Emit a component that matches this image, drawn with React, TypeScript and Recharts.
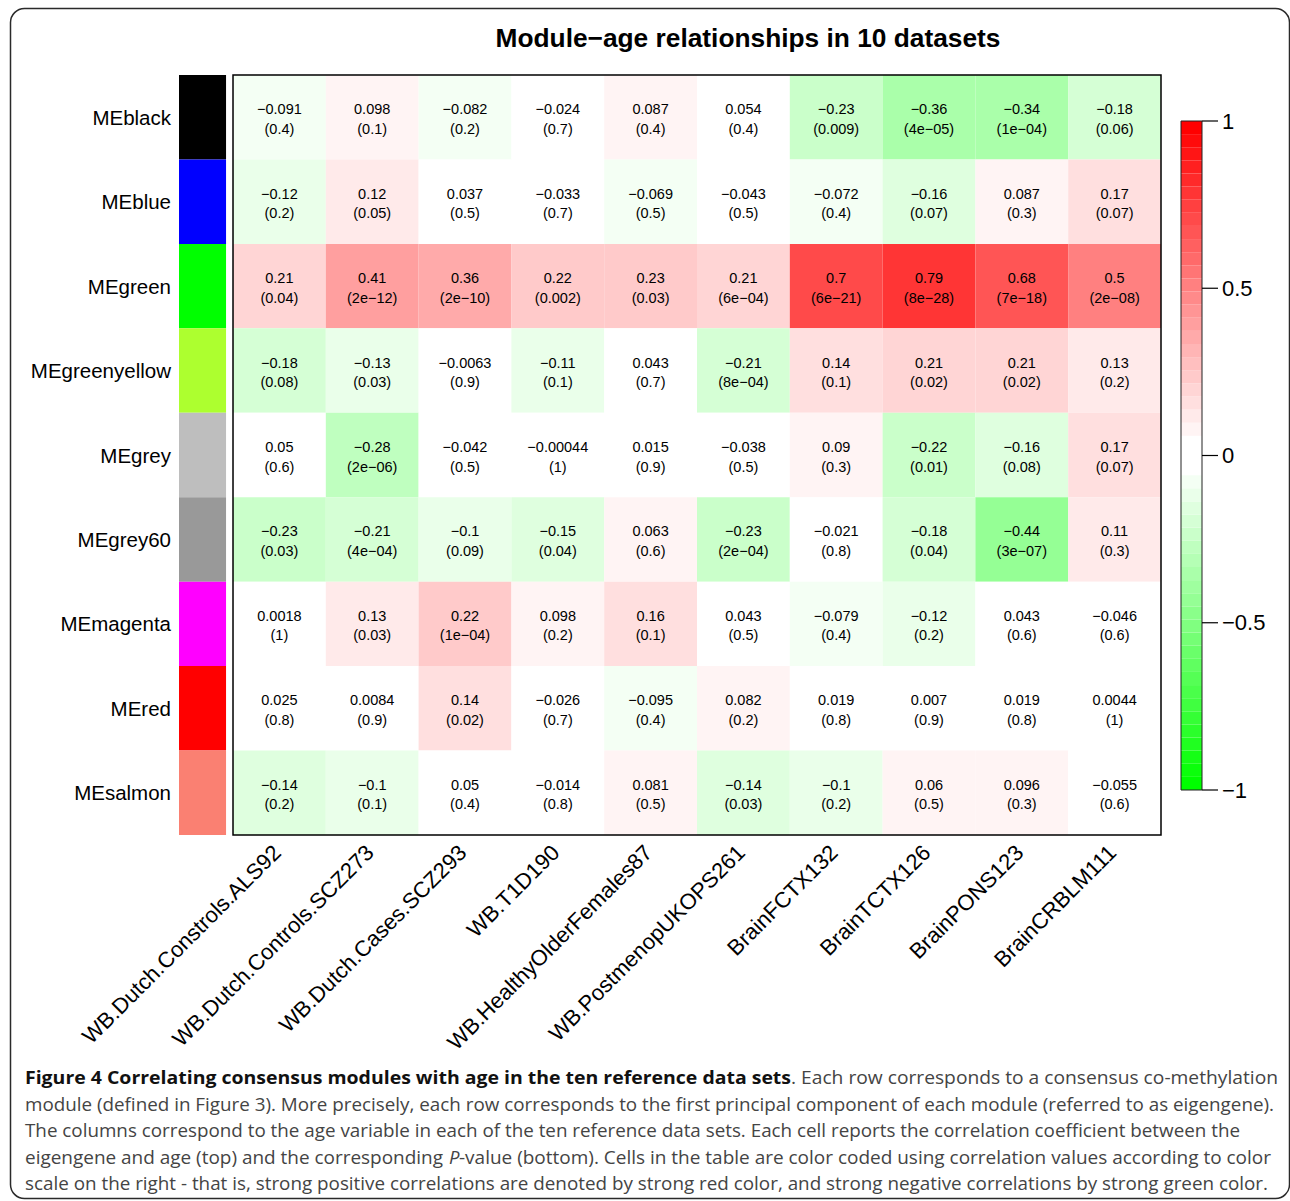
import React from 'react';
import { ScatterChart, Scatter, XAxis, YAxis, ReferenceArea } from 'recharts';

// ---------- data ----------
const MODULES = ['MEblack', 'MEblue', 'MEgreen', 'MEgreenyellow', 'MEgrey', 'MEgrey60', 'MEmagenta', 'MEred', 'MEsalmon'];
const MODULE_COLORS = ['#000000', '#0000FF', '#00FF00', '#ADFF2F', '#BEBEBE', '#999999', '#FF00FF', '#FF0000', '#FA8072'];
const DATASETS = [
  'WB.Dutch.Constrols.ALS92',
  'WB.Dutch.Controls.SCZ273',
  'WB.Dutch.Cases.SCZ293',
  'WB.T1D190',
  'WB.HealthyOlderFemales87',
  'WB.PostmenopUKOPS261',
  'BrainFCTX132',
  'BrainTCTX126',
  'BrainPONS123',
  'BrainCRBLM111',
];

const COR_BLACK = [-0.091, 0.098, -0.082, -0.024, 0.087, 0.054, -0.23, -0.36, -0.34, -0.18];
const P_BLACK = ['0.4', '0.1', '0.2', '0.7', '0.4', '0.4', '0.009', '4e-05', '1e-04', '0.06'];
const COR_BLUE = [-0.12, 0.12, 0.037, -0.033, -0.069, -0.043, -0.072, -0.16, 0.087, 0.17];
const P_BLUE = ['0.2', '0.05', '0.5', '0.7', '0.5', '0.5', '0.4', '0.07', '0.3', '0.07'];
const COR_GREEN = [0.21, 0.41, 0.36, 0.22, 0.23, 0.21, 0.7, 0.79, 0.68, 0.5];
const P_GREEN = ['0.04', '2e-12', '2e-10', '0.002', '0.03', '6e-04', '6e-21', '8e-28', '7e-18', '2e-08'];
const COR_GREENYELLOW = [-0.18, -0.13, -0.0063, -0.11, 0.043, -0.21, 0.14, 0.21, 0.21, 0.13];
const P_GREENYELLOW = ['0.08', '0.03', '0.9', '0.1', '0.7', '8e-04', '0.1', '0.02', '0.02', '0.2'];
const COR_GREY = [0.05, -0.28, -0.042, -0.00044, 0.015, -0.038, 0.09, -0.22, -0.16, 0.17];
const P_GREY = ['0.6', '2e-06', '0.5', '1', '0.9', '0.5', '0.3', '0.01', '0.08', '0.07'];
const COR_GREY60 = [-0.23, -0.21, -0.1, -0.15, 0.063, -0.23, -0.021, -0.18, -0.44, 0.11];
const P_GREY60 = ['0.03', '4e-04', '0.09', '0.04', '0.6', '2e-04', '0.8', '0.04', '3e-07', '0.3'];
const COR_MAGENTA = [0.0018, 0.13, 0.22, 0.098, 0.16, 0.043, -0.079, -0.12, 0.043, -0.046];
const P_MAGENTA = ['1', '0.03', '1e-04', '0.2', '0.1', '0.5', '0.4', '0.2', '0.6', '0.6'];
const COR_RED = [0.025, 0.0084, 0.14, -0.026, -0.095, 0.082, 0.019, 0.007, 0.019, 0.0044];
const P_RED = ['0.8', '0.9', '0.02', '0.7', '0.4', '0.2', '0.8', '0.9', '0.8', '1'];
const COR_SALMON = [-0.14, -0.1, 0.05, -0.014, 0.081, -0.14, -0.1, 0.06, 0.096, -0.055];
const P_SALMON = ['0.2', '0.1', '0.4', '0.8', '0.5', '0.03', '0.2', '0.5', '0.3', '0.6'];

const CORRELATIONS = [COR_BLACK, COR_BLUE, COR_GREEN, COR_GREENYELLOW, COR_GREY, COR_GREY60, COR_MAGENTA, COR_RED, COR_SALMON];
const PVALUES = [P_BLACK, P_BLUE, P_GREEN, P_GREENYELLOW, P_GREY, P_GREY60, P_MAGENTA, P_RED, P_SALMON];

const COLORBAR_TICKS = [-1, -0.5, 0, 0.5, 1];
const HALF = 25; // greenWhiteRed(50) -> 2*25+1 = 51 colours
const N_COLORS = 2 * HALF + 1;

const TITLE = 'Module\u2212age relationships in 10 datasets';

// ---------- helpers ----------
const FONT = "'Liberation Sans', Arial, Helvetica, sans-serif";
const CAPTION_FONT = "'Open Sans', 'Noto Sans', sans-serif";

function colorIndex(v: number) {
  let idx = Math.floor(((v + 1) / 2) * N_COLORS);
  if (idx < 0) idx = 0;
  if (idx > N_COLORS - 1) idx = N_COLORS - 1;
  return idx;
}
function indexColor(idx: number) {
  let r: number, g: number, b: number;
  if (idx < HALF) {
    const t = idx / (HALF - 1);
    r = t; g = 1; b = t;
  } else if (idx === HALF) {
    r = 1; g = 1; b = 1;
  } else {
    const t = (idx - HALF - 1) / (HALF - 1);
    r = 1; g = 1 - t; b = 1 - t;
  }
  const h = (x: number) => Math.round(x * 255).toString(16).padStart(2, '0');
  return `#${h(r)}${h(g)}${h(b)}`;
}
const corColor = (v: number) => indexColor(colorIndex(v));
const minus = (s: string) => s.replace(/-/g, '\u2212');

const cells: { x: number; y: number; row: number; col: number; r: number; p: string }[] = [];
CORRELATIONS.forEach((rowVals, row) => {
  rowVals.forEach((r, col) => {
    cells.push({ x: col + 0.5, y: row + 0.5, row, col, r, p: PVALUES[row][col] });
  });
});

const colTicks = DATASETS.map((_, i) => i + 0.5);
const rowTicks = MODULES.map((_, i) => i + 0.5);

// swatch column (left of the heatmap), in column units
const SWATCH_X1 = -0.582;
const SWATCH_X2 = -0.075;

const CellLabel = (props: any) => {
  const { cx, cy, payload } = props;
  if (cx == null || cy == null) return null;
  return (
    <g>
      <text x={cx} y={cy - 3} textAnchor="middle" fontSize={14.5} fontFamily={FONT} fill="#000">
        {minus(String(payload.r))}
      </text>
      <text x={cx} y={cy + 16.5} textAnchor="middle" fontSize={14.5} fontFamily={FONT} fill="#000">
        {`(${minus(payload.p)})`}
      </text>
    </g>
  );
};

const ColTick = (props: any) => {
  const { x, y, payload } = props;
  const idx = Math.round(payload.value - 0.5);
  const ax = x + 3;
  const ay = y + 19;
  return (
    <text x={ax} y={ay} transform={`rotate(-45 ${ax} ${ay})`} textAnchor="end" fontSize={22} fontFamily={FONT} fill="#000">
      {DATASETS[idx]}
    </text>
  );
};

const RowTick = (props: any) => {
  const { x, y, payload } = props;
  const idx = Math.round(payload.value - 0.5);
  return (
    <text x={x} y={y + 7.5} textAnchor="end" fontSize={20.5} fontFamily={FONT} fill="#000">
      {MODULES[idx]}
    </text>
  );
};

const BarTick = (props: any) => {
  const { x, y, payload } = props;
  return (
    <text x={x} y={y} dominantBaseline="central" textAnchor="start" fontSize={22} fontFamily={FONT} fill="#000">
      {minus(String(payload.value))}
    </text>
  );
};

const colorBins = Array.from({ length: N_COLORS }, (_, i) => i);
const barPoints = COLORBAR_TICKS.map((v) => ({ x: 0.5, y: v }));
const NoShape = () => null;

const CAPTION_COLOR = '#444';
const CAP_FS = 18.5;

export default function App() {
  return (
    <div style={{ position: 'absolute', left: 0, top: 0, width: 1290, height: 1201, background: '#fff', overflow: 'hidden' }}>
      <svg width={1290} height={1201} style={{ position: 'absolute', left: 0, top: 0 }}>
        <rect x={10.5} y={8.5} width={1279} height={1190} rx={14} ry={14} fill="none" stroke="#2a2a2a" strokeWidth={1.5} />
        <text x={748} y={47} textAnchor="middle" fontSize={26.3} fontWeight="bold" fontFamily={FONT} fill="#000">
          {TITLE}
        </text>
        {/* caption */}
        <text x={25} y={1084} fontSize={CAP_FS} fontWeight="bold" fontFamily={CAPTION_FONT} fill="#111" textLength={766} lengthAdjust="spacingAndGlyphs">
          Figure 4 Correlating consensus modules with age in the ten reference data sets
        </text>
        <text x={791} y={1084} fontSize={CAP_FS} fontFamily={CAPTION_FONT} fill={CAPTION_COLOR} textLength={487} lengthAdjust="spacingAndGlyphs">
          . Each row corresponds to a consensus co-methylation
        </text>
        <text x={25} y={1110.5} fontSize={CAP_FS} fontFamily={CAPTION_FONT} fill={CAPTION_COLOR} textLength={1249} lengthAdjust="spacingAndGlyphs">
          module (defined in Figure 3). More precisely, each row corresponds to the first principal component of each module (referred to as eigengene).
        </text>
        <text x={25} y={1137} fontSize={CAP_FS} fontFamily={CAPTION_FONT} fill={CAPTION_COLOR} textLength={1215} lengthAdjust="spacingAndGlyphs">
          The columns correspond to the age variable in each of the ten reference data sets. Each cell reports the correlation coefficient between the
        </text>
        <text x={25} y={1163.5} fontSize={CAP_FS} fontFamily={CAPTION_FONT} fill={CAPTION_COLOR} textLength={418} lengthAdjust="spacingAndGlyphs">
          eigengene and age (top) and the corresponding
        </text>
        <text x={449} y={1163.5} fontSize={CAP_FS} fontStyle="italic" fontFamily={CAPTION_FONT} fill={CAPTION_COLOR}>
          P
        </text>
        <text x={459} y={1163.5} fontSize={CAP_FS} fontFamily={CAPTION_FONT} fill={CAPTION_COLOR} textLength={812} lengthAdjust="spacingAndGlyphs">
          -value (bottom). Cells in the table are color coded using correlation values according to color
        </text>
        <text x={25} y={1190} fontSize={CAP_FS} fontFamily={CAPTION_FONT} fill={CAPTION_COLOR} textLength={1243} lengthAdjust="spacingAndGlyphs">
          scale on the right - that is, strong positive correlations are denoted by strong red color, and strong negative correlations by strong green color.
        </text>
      </svg>

      {/* main heatmap */}
      <div style={{ position: 'absolute', left: 0, top: 0 }}>
        <ScatterChart width={1290} height={1060} margin={{ top: 75, right: 129, bottom: 25, left: 59 }}>
          <XAxis
            type="number"
            dataKey="x"
            domain={[SWATCH_X1, DATASETS.length]}
            ticks={colTicks}
            interval={0}
            tick={<ColTick />}
            tickSize={0}
            tickMargin={0}
            axisLine={false}
            tickLine={false}
            height={200}
            allowDataOverflow
          />
          <YAxis
            type="number"
            dataKey="y"
            domain={[0, MODULES.length]}
            reversed
            ticks={rowTicks}
            interval={0}
            tick={<RowTick />}
            tickSize={0}
            tickMargin={8}
            axisLine={false}
            tickLine={false}
            width={120}
            allowDataOverflow
          />
          {MODULE_COLORS.map((c, i) => (
            <ReferenceArea key={`sw${i}`} x1={SWATCH_X1} x2={SWATCH_X2} y1={i} y2={i + 1} fill={c} fillOpacity={1} stroke="none" ifOverflow="visible" />
          ))}
          {cells.map((c) => (
            <ReferenceArea
              key={`c${c.row}-${c.col}`}
              x1={c.col}
              x2={c.col + 1}
              y1={c.row}
              y2={c.row + 1}
              fill={corColor(c.r)}
              fillOpacity={1}
              stroke="none"
              ifOverflow="visible"
            />
          ))}
          <ReferenceArea x1={0} x2={DATASETS.length} y1={0} y2={MODULES.length} fill="none" fillOpacity={0} stroke="#000" strokeWidth={1.5} ifOverflow="visible" />
          <Scatter data={cells} shape={<CellLabel />} isAnimationActive={false} />
        </ScatterChart>
      </div>

      {/* color bar */}
      <div style={{ position: 'absolute', left: 1100, top: 0 }}>
        <ScatterChart width={190} height={900} margin={{ top: 121, right: 28, bottom: 110, left: 81 }}>
          <XAxis type="number" dataKey="x" domain={[0, 1]} hide allowDataOverflow />
          <YAxis
            type="number"
            dataKey="y"
            orientation="right"
            domain={[-1, 1]}
            ticks={COLORBAR_TICKS}
            interval={0}
            tick={<BarTick />}
            tickSize={16}
            tickMargin={4}
            axisLine={false}
            tickLine={{ stroke: '#000', strokeWidth: 1.2 }}
            width={60}
            allowDataOverflow
          />
          {colorBins.map((i) => (
            <ReferenceArea
              key={`b${i}`}
              x1={0}
              x2={1}
              y1={-1 + (2 * i) / N_COLORS}
              y2={-1 + (2 * (i + 1)) / N_COLORS}
              fill={indexColor(i)}
              fillOpacity={1}
              stroke="none"
              ifOverflow="visible"
            />
          ))}
          <ReferenceArea x1={0} x2={1} y1={-1} y2={1} fill="none" fillOpacity={0} stroke="#222" strokeWidth={1} ifOverflow="visible" />
          <Scatter data={barPoints} shape={<NoShape />} isAnimationActive={false} />
        </ScatterChart>
      </div>
    </div>
  );
}
